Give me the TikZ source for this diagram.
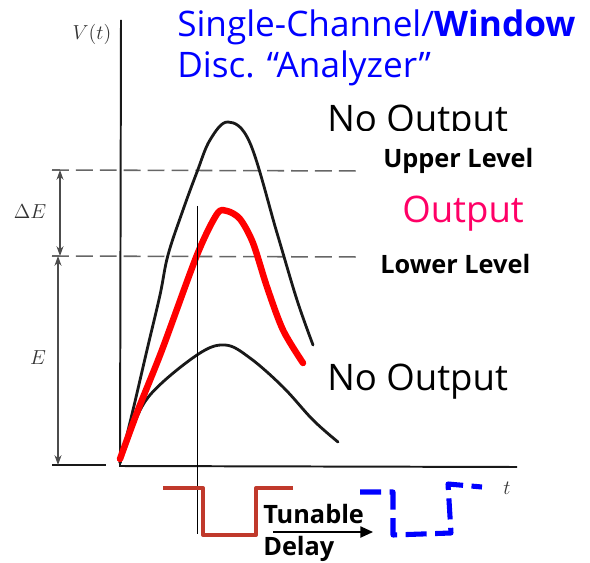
\documentclass[tikz,border=0pt]{standalone}
\usepackage{fontspec}
\newfontfamily\comicfont{Open Sans}
\newfontfamily\levelfont{Open Sans}
\usetikzlibrary{arrows.meta, positioning, calc}

\definecolor{titleblue}{RGB}{0,0,255}
\definecolor{outpink}{RGB}{255,0,102}
\definecolor{pulsered}{RGB}{192,57,43}
\definecolor{scanblack}{RGB}{25,25,25}

\tikzset{
    axisline/.style={scanblack, line width=1.4pt},
    levelline/.style={black!60, line width=1.1pt, dash pattern=on 12pt off 5pt},
    dimarrow/.style={black!70, line width=0.9pt, {Stealth[length=7pt,width=5pt]}-{Stealth[length=7pt,width=5pt]}},
    pulse/.style={scanblack, line width=2pt, line join=round, line cap=round},
    comictext/.style={font=\comicfont\fontsize{26}{30}\selectfont, inner sep=0pt},
    leveltext/.style={font=\levelfont\bfseries\fontsize{18}{21}\selectfont, inner sep=0pt},
    mathtext/.style={font=\fontsize{15}{18}\selectfont, inner sep=0pt, text=black!80}
}

\begin{document}
\begin{tikzpicture}[x=0.025cm, y=-0.025cm, >=Stealth]
\useasboundingbox (0,0) rectangle (590,563);

% =========================================================
%  Axes and level lines
% =========================================================
\coordinate (ytop) at (121,20);
\coordinate (origin) at (120,466);
\coordinate (xend) at (517,467);
\coordinate (upL) at (52,170);
\coordinate (upR) at (362,171);
\coordinate (loL) at (52,256);
\coordinate (loR) at (362,257);
\coordinate (baseL) at (52,465);
\coordinate (baseR) at (106,465);

\draw[axisline] (ytop) -- (origin) -- (xend);
\draw[axisline, line width=1pt] (baseL) -- (baseR);
\draw[levelline] (upL) -- (upR);
\draw[levelline] (loL) -- (loR);

% Energy window arrows
\draw[dimarrow] ($(upL)+(8,0)$) -- ($(loL)+(8,0)$);
\draw[dimarrow] ($(loL)+(6,0)$) -- ($(baseL)+(6,0)$);

\node[mathtext] (vlabel) at (92,34) {$V(t)$};
\node[mathtext] (dElabel) at (30,212) {$\Delta E$};
\node[mathtext] (Elabel) at (38,358) {$E$};
\node[mathtext] (tlabel) at (507,488) {$t$};

% =========================================================
%  Pulses
% =========================================================
% Too large
\draw[pulse] plot[smooth, tension=0.6] coordinates {
    (120,463) (133,410) (147,350) (160,295) (168,255) (183,210)
    (197,172) (210,140) (228,122) (250,143) (277,233) (297,300) (313,345)};
% Too small
\draw[pulse] plot[smooth, tension=0.6] coordinates {
    (120,463) (130,434) (150,395) (197,355) (225,345) (250,358)
    (283,387) (313,420) (338,442)};
% Inside the window
\draw[red, line width=4.6pt, line cap=round, line join=round]
    plot[smooth, tension=0.5] coordinates {
    (120,459) (138,410) (162,350) (197,255) (217,214) (227,211)
    (240,219) (253,243) (267,287) (283,330) (303,363)};

% Timing marker
\coordinate (markTop) at (197,206);
\coordinate (markBot) at (197,534);
\draw[black, line width=0.6pt] (markTop) -- (markBot);

% =========================================================
%  Labels
% =========================================================
\node[comictext, text=titleblue, anchor=base west, font=\comicfont\fontsize{25}{30}\selectfont]
    (title) at (177,37) {Single-Channel/\textbf{Window}};
\node[comictext, text=titleblue, anchor=base west, font=\comicfont\fontsize{25}{30}\selectfont]
    (subtitle) at (title.base west) [yshift=-41*0.025cm] {Disc. \textquotedblleft Analyzer\textquotedblright};

\begin{scope}
    \clip (300,90) rectangle (560,131);
    \node[comictext, anchor=base west] (noOutTop) at (327,132) {No Output};
\end{scope}
\node[comictext, anchor=base west] (noOutBot) at (327,390) {No Output};
\node[comictext, text=outpink, anchor=base west] (outLabel) at (402,223) {Output};

\node[leveltext, anchor=base west] (upLabel) at (383,168) {Upper Level};
\node[leveltext, anchor=base west] (loLabel) at (380,274) {Lower Level};

% =========================================================
%  Gate signal and delayed gate
% =========================================================
\draw[pulsered, line width=2.8pt, line join=round]
    (163,488) -- (203,488) -- (203,535) -- (256,535) -- (256,488) -- (293,488);

\node[leveltext, anchor=base west] (tunable) at (263,523) {Tunable};
\node[leveltext, anchor=base west] (delay) at (263,555) {Delay};
\coordinate (delayA) at (273,532);
\coordinate (delayB) at (373,532);
\draw[-{Triangle[length=9pt,width=8pt]}, line width=1pt] (delayA) -- (delayB);

\draw[titleblue, line width=3.6pt, dash pattern=on 15pt off 6pt, line join=round]
    (360,492) -- (393,492) -- (393,535) -- (451,533) -- (448,484) -- (482,487);

\end{tikzpicture}
\end{document}
